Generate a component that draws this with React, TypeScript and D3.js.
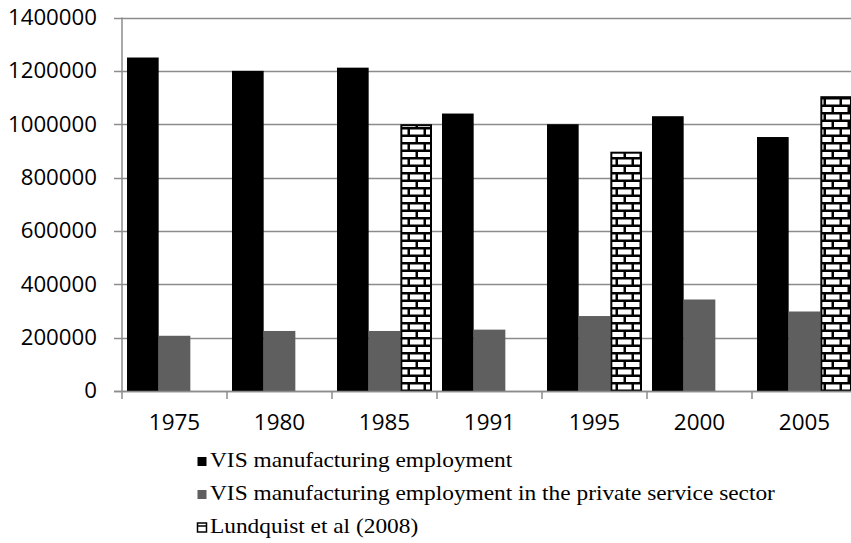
import React, { useEffect, useRef } from 'react';
import * as d3 from 'd3';

const years = ['1975', '1980', '1985', '1991', '1995', '2000', '2005'];
const visManufacturing = [1250000, 1200000, 1212000, 1040000, 1000000, 1030000, 952000];
const visPrivateService = [207000, 225000, 225000, 230000, 281000, 343000, 298000];
const lundquist: (number | null)[] = [null, null, 1000000, null, 897000, null, 1105000];
const yTicks = [0, 200000, 400000, 600000, 800000, 1000000, 1200000, 1400000];
const seriesNames = [
  'VIS manufacturing employment',
  'VIS manufacturing employment in the private service sector',
  'Lundquist et al (2008)',
];

const App: React.FC = () => {
  const svgRef = useRef<SVGSVGElement>(null);

  useEffect(() => {
    if (!svgRef.current) return;
    const width = 851;
    const height = 543;
    const left = 122;
    const top = 17.5;
    const bottom = 391;

    const svg = d3.select(svgRef.current)
      .attr('width', width)
      .attr('height', height)
      .html('');

    // brick pattern
    const defs = svg.append('defs');
    const pat = defs.append('pattern')
      .attr('id', 'brick')
      .attr('patternUnits', 'userSpaceOnUse')
      .attr('width', 16)
      .attr('height', 15);
    pat.append('rect').attr('width', 16).attr('height', 15).attr('fill', '#000');
    pat.append('rect').attr('x', 2).attr('y', 2).attr('width', 13.5).attr('height', 5).attr('fill', '#fff');
    pat.append('rect').attr('x', -6).attr('y', 9.5).attr('width', 13.5).attr('height', 5).attr('fill', '#fff');
    pat.append('rect').attr('x', 10).attr('y', 9.5).attr('width', 13.5).attr('height', 5).attr('fill', '#fff');

    const y = d3.scaleLinear().domain([0, 1400000]).range([bottom, top]);
    const x = d3.scaleBand().domain(years).range([left, left + 105 * years.length]);
    const inner = d3.scaleBand().domain(['a', 'b', 'c']).range([5, 100]);

    // gridlines
    svg.append('g').selectAll('line')
      .data(yTicks)
      .enter()
      .append('line')
      .attr('x1', left - 8)
      .attr('x2', width)
      .attr('y1', d => Math.round(y(d)) + 0.5)
      .attr('y2', d => Math.round(y(d)) + 0.5)
      .attr('stroke', '#8c8c8c')
      .attr('stroke-width', 1.5);

    // y labels
    svg.append('g').selectAll('text')
      .data(yTicks)
      .enter()
      .append('text')
      .attr('transform', d => `translate(97,${y(d)}) scale(1.06,1)`)
      .attr('dy', '0.35em')
      .attr('text-anchor', 'end')
      .attr('font-family', '"Open Sans", sans-serif')
      .attr('font-size', '21px')
      .attr('fill', '#000')
      .text(d => String(d));

    const bars = svg.append('g');
    years.forEach((yr, i) => {
      const x0 = x(yr)!;
      bars.append('rect')
        .attr('x', x0 + inner('a')!)
        .attr('y', y(visManufacturing[i]))
        .attr('width', inner.bandwidth())
        .attr('height', bottom - y(visManufacturing[i]))
        .attr('fill', '#000');
      bars.append('rect')
        .attr('x', x0 + inner('b')!)
        .attr('y', y(visPrivateService[i]))
        .attr('width', inner.bandwidth())
        .attr('height', bottom - y(visPrivateService[i]))
        .attr('fill', '#5f5f5f');
      const l = lundquist[i];
      if (l != null) {
        bars.append('rect')
          .attr('x', x0 + inner('c')! + 1)
          .attr('y', y(l) + 1)
          .attr('width', inner.bandwidth() - 2)
          .attr('height', bottom - y(l) - 1)
          .attr('fill', 'url(#brick)')
          .attr('stroke', '#000')
          .attr('stroke-width', 2);
      }
    });

    // axes lines
    svg.append('line')
      .attr('x1', left).attr('x2', left)
      .attr('y1', top).attr('y2', bottom + 8)
      .attr('stroke', '#8c8c8c').attr('stroke-width', 1.5);
    svg.append('line')
      .attr('x1', left - 8).attr('x2', width)
      .attr('y1', Math.round(bottom) + 0.5).attr('y2', Math.round(bottom) + 0.5)
      .attr('stroke', '#8c8c8c').attr('stroke-width', 1.5);
    svg.append('g').selectAll('line')
      .data(years.slice(1))
      .enter()
      .append('line')
      .attr('x1', d => x(d)!)
      .attr('x2', d => x(d)!)
      .attr('y1', bottom)
      .attr('y2', bottom + 8)
      .attr('stroke', '#8c8c8c')
      .attr('stroke-width', 1.5);

    // x labels
    svg.append('g').selectAll('text')
      .data(years)
      .enter()
      .append('text')
      .attr('transform', d => `translate(${x(d)! + x.bandwidth() / 2},423) scale(1.07,1)`)
      .attr('dy', '0.35em')
      .attr('text-anchor', 'middle')
      .attr('font-family', '"Open Sans", sans-serif')
      .attr('font-size', '21px')
      .attr('fill', '#000')
      .text(d => d);

    // legend
    const fills = ['#000', '#5f5f5f', 'url(#brick)'];
    const lg = svg.append('g');
    seriesNames.forEach((name, i) => {
      const base = 467 + i * 33;
      lg.append('rect')
        .attr('x', 197.5)
        .attr('y', base - 10)
        .attr('width', 9)
        .attr('height', 9)
        .attr('fill', i === 2 ? '#fff' : fills[i])
        .attr('stroke', i === 2 ? '#000' : 'none')
        .attr('stroke-width', 1.5);
      if (i === 2) {
        lg.append('line')
          .attr('x1', 197.5).attr('x2', 206.5)
          .attr('y1', base - 7).attr('y2', base - 7)
          .attr('stroke', '#000').attr('stroke-width', 1.5);
      }
      lg.append('text')
        .attr('transform', `translate(210,${base}) scale(1.14,1)`)
        .attr('font-family', '"Liberation Serif", "Times New Roman", serif')
        .attr('font-size', '20.5px')
        .attr('fill', '#000')
        .text(name);
    });
  }, []);

  return (
    <svg ref={svgRef} style={{ position: 'absolute', left: 0, top: 0, background: '#fff' }} />
  );
};

export default App;
